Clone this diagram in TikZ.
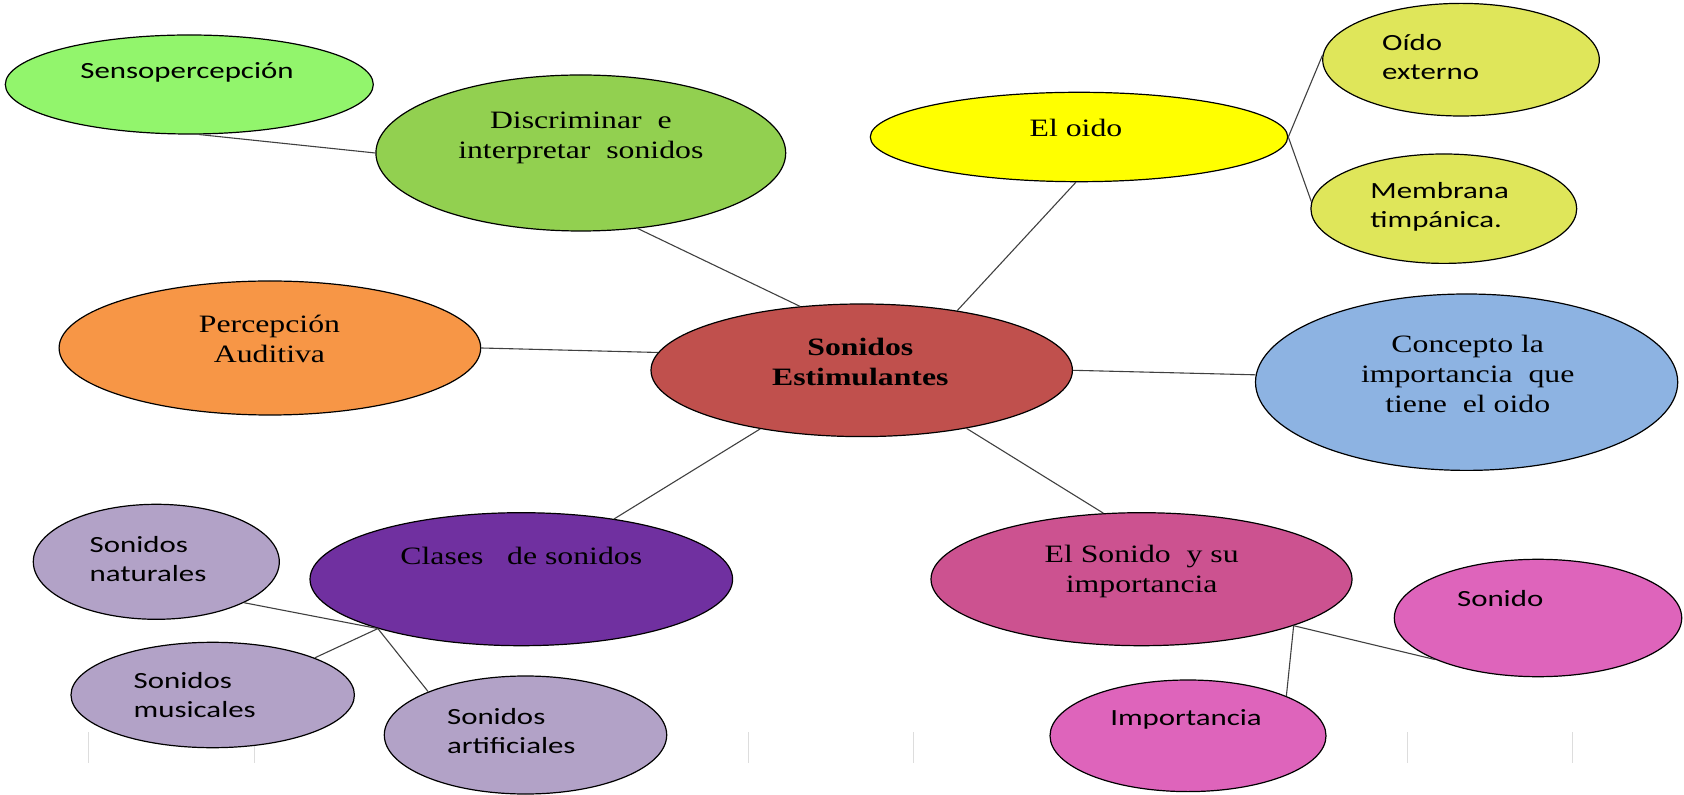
\documentclass[tikz,border=0pt]{standalone}
\usepackage{fontspec}
\setmainfont{Liberation Serif}[FakeStretch=1.27]
\newfontfamily\calib{Carlito}[FakeStretch=1.33]
\usetikzlibrary{shapes.geometric}
\definecolor{cSenso}{HTML}{92F56C}
\definecolor{cDisc}{HTML}{92D050}
\definecolor{cPerc}{HTML}{F79646}
\definecolor{cCentral}{HTML}{C0504D}
\definecolor{cOido}{HTML}{FFFF00}
\definecolor{cOidoSub}{HTML}{DFE65A}
\definecolor{cConc}{HTML}{8DB3E2}
\definecolor{cClases}{HTML}{7030A0}
\definecolor{cLav}{HTML}{B2A2C7}
\definecolor{cElSon}{HTML}{CC5290}
\definecolor{cPink}{HTML}{DE64BB}
\definecolor{cLine}{HTML}{404040}
\definecolor{cFaint}{HTML}{DDDDDD}
\tikzset{
  bub/.style={ellipse, draw=black, line width=0.6pt, inner sep=0pt},
  serift/.style={font=\fontsize{12.5pt}{15pt}\selectfont, align=center, inner sep=0pt},
  sanst/.style={font=\calib\fontsize{11.6pt}{14.5pt}\selectfont, align=left, inner sep=0pt, anchor=west},
  conn/.style={draw=cLine, line width=0.55pt},
  faint/.style={draw=cFaint, line width=0.5pt}
}
\begin{document}
\begin{tikzpicture}[x=0.5pt, y=-0.5pt]
\useasboundingbox (0,0) rectangle (1684,795);
% faint table borders
\foreach \fx in {88.3,254,748.6,913.3,1407.3,1572.3}
  \draw[faint] (\fx,732) -- (\fx,763);
% ellipses
\node[bub, fill=cSenso, minimum width=184pt, minimum height=49.5pt] (senso) at (189.3,84.5) {};
\node[bub, fill=cDisc, minimum width=204.9pt, minimum height=78pt] (disc) at (580.8,153) {};
\node[bub, fill=cPerc, minimum width=210.8pt, minimum height=67pt] (perc) at (269.9,348) {};
\node[bub, fill=cCentral, minimum width=210.7pt, minimum height=66.3pt] (central) at (861.7,370.3) {};
\node[bub, fill=cOido, minimum width=208.7pt, minimum height=44.7pt] (oido) at (1079,137) {};
\node[bub, fill=cOidoSub, minimum width=138.3pt, minimum height=56.3pt] (ext) at (1461,59.7) {};
\node[bub, fill=cOidoSub, minimum width=132.9pt, minimum height=54.7pt] (memb) at (1443.8,208.7) {};
\node[bub, fill=cConc, minimum width=211.1pt, minimum height=88.2pt] (conc) at (1466.6,382.2) {};
\node[bub, fill=cClases, minimum width=211.3pt, minimum height=66.5pt] (clases) at (521.3,579.2) {};
\node[bub, fill=cLav, minimum width=123pt, minimum height=57.5pt] (nat) at (156.3,561.8) {};
\node[bub, fill=cLav, minimum width=141.7pt, minimum height=52.7pt] (mus) at (212.7,695) {};
\node[bub, fill=cLav, minimum width=141.2pt, minimum height=59pt] (art) at (525.5,735) {};
\node[bub, fill=cElSon, minimum width=210.5pt, minimum height=66.5pt] (elson) at (1141.5,579.2) {};
\node[bub, fill=cPink, minimum width=143.7pt, minimum height=58.7pt] (son) at (1538,618) {};
\node[bub, fill=cPink, minimum width=138pt, minimum height=55.8pt] (imp) at (1188,735.8) {};
% connectors
\draw[conn] (senso.-79) -- (disc.180);
\draw[conn] (disc.-53) -- (central.134);
\draw[conn] (perc.0) -- (central.175.6);
\draw[conn] (oido.-94) -- (central.32);
\draw[conn] (oido.0) -- (ext.178);
\draw[conn] (oido.0) -- (memb.177.7);
\draw[conn] (central.0) -- (conc.178);
\draw[conn] (central.-150.8) -- (clases.33);
\draw[conn] (central.-29) -- (elson.120.5);
\draw[conn] (clases.-161.9) -- (nat.-25.2);
\draw[conn] (clases.-161.9) -- (mus.20);
\draw[conn] (clases.-161.9) -- (art.156.8);
\draw[conn] (elson.-17.3) -- (imp.22.5);
\draw[conn] (elson.-17.3) -- (son.-158.9);
% texts
\node[sanst, anchor=center] (senso-t) at (187,72.7) {Sensopercepción};
\node[serift] (disc-t) at (580.8,137.7) {Discriminar~~e\\interpretar~~sonidos};
\node[serift] (perc-t) at (269.5,338.5) {Percepción\\Auditiva};
\node[serift, font=\fontsize{12.5pt}{15pt}\selectfont\bfseries] (central-t) at (860.3,361.7) {Sonidos\\Estimulantes};
\node[serift] (oido-t) at (1076,128.3) {El oido};
\node[sanst] (ext-t) at (1381.7,56.7) {Oído\\externo};
\node[sanst] (memb-t) at (1370,207.2) {Membrana\\timpánica.};
\node[serift] (conc-t) at (1467.7,374.4) {Concepto la\\importancia~~que\\tiene~~el oido};
\node[serift] (clases-t) at (521.3,556) {Clases~~~de sonidos};
\node[sanst] (nat-t) at (89.3,558.8) {Sonidos\\naturales};
\node[sanst] (mus-t) at (133.3,694.7) {Sonidos\\musicales};
\node[sanst] (art-t) at (446.7,731.3) {Sonidos\\artificiales};
\node[serift] (elson-t) at (1141.7,571) {El Sonido~~y su\\importancia};
\node[sanst] (son-t) at (1456.7,598.3) {Sonido};
\node[sanst, anchor=center] (imp-t) at (1186,719) {Importancia};
\end{tikzpicture}
\end{document}
